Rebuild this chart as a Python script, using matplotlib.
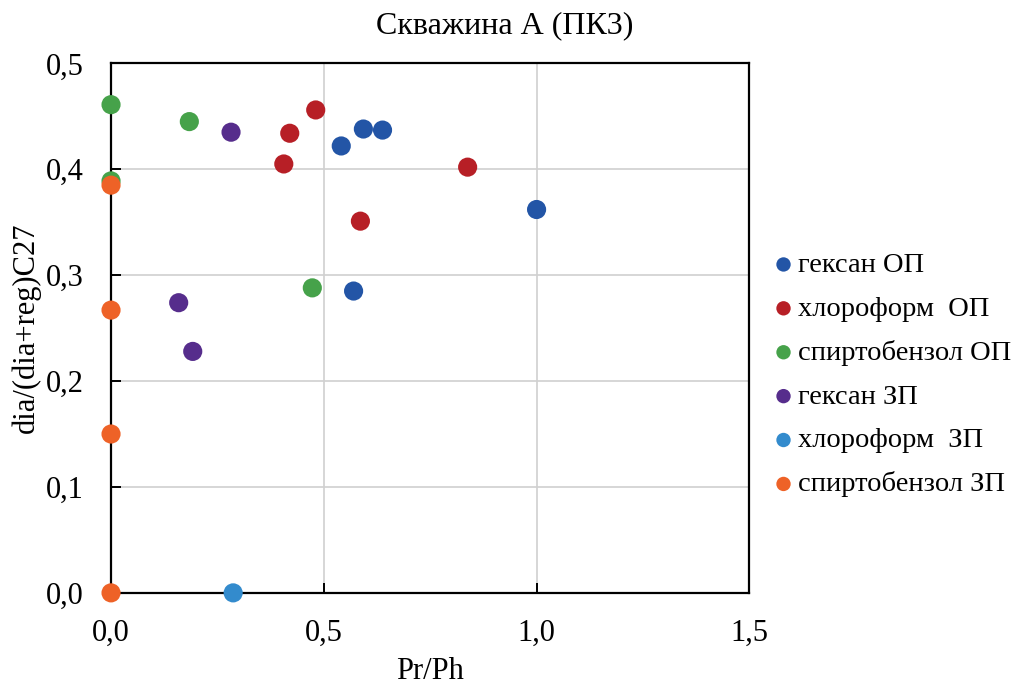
import matplotlib.pyplot as plt
import matplotlib.ticker as mticker

plt.rcParams['font.family'] = ['Liberation Serif', 'DejaVu Serif']

# Pr/Ph vs dia/(dia+reg)C27 for each extract
hex_op_x = [0.541, 0.593, 0.638, 1.0, 0.570]
hex_op_y = [0.422, 0.438, 0.437, 0.362, 0.285]
chl_op_x = [0.481, 0.420, 0.406, 0.838, 0.586]
chl_op_y = [0.456, 0.434, 0.405, 0.402, 0.351]
spb_op_x = [0.0, 0.184, 0.0, 0.473]
spb_op_y = [0.461, 0.445, 0.389, 0.288]
hex_zp_x = [0.282, 0.159, 0.192]
hex_zp_y = [0.435, 0.274, 0.228]
chl_zp_x = [0.287]
chl_zp_y = [0.0]
spb_zp_x = [0.0, 0.0, 0.0, 0.0]
spb_zp_y = [0.385, 0.267, 0.150, 0.0]

series = [
    ('гексан ОП', hex_op_x, hex_op_y, '#2355A6'),
    ('хлороформ  ОП', chl_op_x, chl_op_y, '#B71F26'),
    ('спиртобензол ОП', spb_op_x, spb_op_y, '#46A24A'),
    ('гексан ЗП', hex_zp_x, hex_zp_y, '#562D8C'),
    ('хлороформ  ЗП', chl_zp_x, chl_zp_y, '#338BCD'),
    ('спиртобензол ЗП', spb_zp_x, spb_zp_y, '#EE6227'),
]

fig = plt.figure(figsize=(10.14, 6.85), dpi=100)
ax = fig.add_axes([0.1095, 0.1345, 0.6295, 0.7730])

for i, (name, xs, ys, col) in enumerate(series):
    ax.scatter(xs, ys, s=190, color=col, edgecolors='none', label=name,
               clip_on=False, zorder=3 + i)

ax.set_xlim(0, 1.5)
ax.set_ylim(0, 0.5)
ax.xaxis.set_major_locator(mticker.MultipleLocator(0.5))
ax.yaxis.set_major_locator(mticker.MultipleLocator(0.1))
fmt = mticker.FuncFormatter(lambda v, p: f'{v:.1f}'.replace('.', ','))
ax.xaxis.set_major_formatter(fmt)
ax.yaxis.set_major_formatter(fmt)

ax.grid(True, color='#d0d0d0', linewidth=1.2, zorder=0)
ax.set_axisbelow(True)
for sp in ax.spines.values():
    sp.set_color('black')
    sp.set_linewidth(1.6)
ax.tick_params(direction='in', length=7, width=1.4, labelsize=22)
ax.tick_params(axis='y', pad=20)
ax.tick_params(axis='x', pad=19)

fig.text(0.498, 0.963, 'Скважина А (ПК3)', fontsize=23, ha='center', va='center')
ax.set_xlabel('Pr/Ph', fontsize=22, labelpad=6)
ax.set_ylabel('dia/(dia+reg)C27', fontsize=22, labelpad=3)

ax.legend(loc='center left', bbox_to_anchor=(1.0, 0.412), frameon=False,
          fontsize=20.5, handlelength=0.6, handletextpad=0.2,
          labelspacing=0.63, markerscale=0.75, borderaxespad=0.5)

fig.savefig('out.png', dpi=100)
